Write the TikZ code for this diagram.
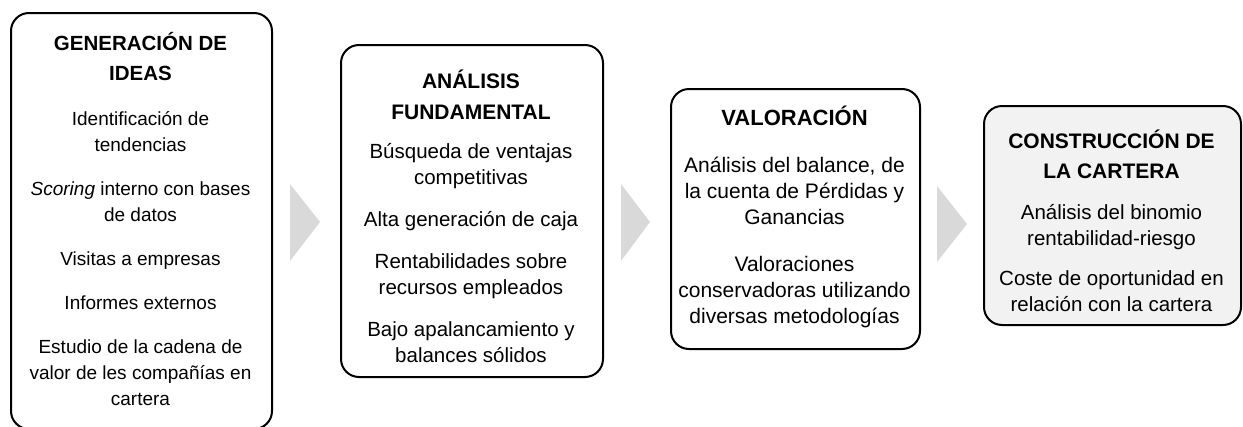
\documentclass[tikz,border=0pt]{standalone}
\usepackage{fontspec}
\setmainfont{Liberation Sans}
\definecolor{arrowgray}{HTML}{D9D9D9}
\definecolor{boxfill}{HTML}{F2F2F2}
\tikzset{
  stage/.style={draw=black, line width=2pt, rounded corners=18pt, inner sep=0pt, anchor=north west},
  ttl/.style={font=\bfseries\fontsize{#1}{24}\selectfont, anchor=base, inner sep=0pt},
  bdy/.style={font=\fontsize{#1}{22}\selectfont, anchor=base, inner sep=0pt},
  tri/.style={fill=arrowgray, draw=none}
}
\begin{document}
\begin{tikzpicture}[x=1pt,y=-1pt]
\useasboundingbox (0,0) rectangle (1243,426);
% stage boxes
\begin{scope}
\clip (0,0) rectangle (1243,426);
\node[stage, minimum width=261pt, minimum height=416pt] (s1) at (10,12) {};
\end{scope}
\node[stage, minimum width=262pt, minimum height=332pt] (s2) at (340,44) {};
\node[stage, minimum width=249pt, minimum height=260pt] (s3) at (670,88) {};
\node[stage, fill=boxfill, minimum width=257pt, minimum height=219pt] (s4) at (983,105) {};
% arrows between stages
\coordinate (a1t) at (290,184); \coordinate (a1p) at (320,222); \coordinate (a1b) at (290,261);
\coordinate (a2t) at (621,184); \coordinate (a2p) at (650,222); \coordinate (a2b) at (621,261);
\coordinate (a3t) at (937,186); \coordinate (a3p) at (967,224); \coordinate (a3b) at (937,262);
\fill[tri] (a1t) -- (a1p) -- (a1b) -- cycle;
\fill[tri] (a2t) -- (a2p) -- (a2b) -- cycle;
\fill[tri] (a3t) -- (a3p) -- (a3b) -- cycle;
% box 1
\foreach \n/\yy/\t in {1/50/{GENERACIÓN DE}, 2/80/{IDEAS}}
  \node[ttl=20.5] (h1-\n) at (140.5,\yy) {\t};
\foreach \n/\yy/\t in {1/125/{Identificación de}, 2/151/{tendencias},
  3/195/{\textit{Scoring} interno con bases}, 4/221/{de datos},
  5/265/{Visitas a empresas}, 6/309/{Informes externos},
  7/353/{Estudio de la cadena de}, 8/379/{valor de les compañías en}, 9/405/{cartera}}
  \node[bdy=19] (b1-\n) at (140.5,\yy) {\t};
% box 2
\foreach \n/\yy/\t in {1/88/{ANÁLISIS}, 2/119/{FUNDAMENTAL}}
  \node[ttl=21] (h2-\n) at (471,\yy) {\t};
\foreach \n/\yy/\t in {1/158/{Búsqueda de ventajas}, 2/184/{competitivas},
  3/226/{Alta generación de caja}, 4/268/{Rentabilidades sobre},
  5/294/{recursos empleados}, 6/336/{Bajo apalancamiento y}, 7/362/{balances sólidos}}
  \node[bdy=20.5] (b2-\n) at (471,\yy) {\t};
% box 3
\node[ttl=22] (h3-1) at (794.5,125) {VALORACIÓN};
\foreach \n/\yy/\t in {1/172/{Análisis del balance, de}, 2/198/{la cuenta de Pérdidas y},
  3/224/{Ganancias}, 4/271/{Valoraciones}, 5/297/{conservadoras utilizando},
  6/323/{diversas metodologías}}
  \node[bdy=21] (b3-\n) at (794.5,\yy) {\t};
% box 4
\foreach \n/\yy/\t in {1/148/{CONSTRUCCIÓN DE}, 2/178/{LA CARTERA}}
  \node[ttl=21] (h4-\n) at (1111.5,\yy) {\t};
\foreach \n/\yy/\t in {1/219/{Análisis del binomio}, 2/245/{rentabilidad-riesgo},
  3/285/{Coste de oportunidad en}, 4/311/{relación con la cartera}}
  \node[bdy=20.5] (b4-\n) at (1111.5,\yy) {\t};
\end{tikzpicture}
\end{document}
